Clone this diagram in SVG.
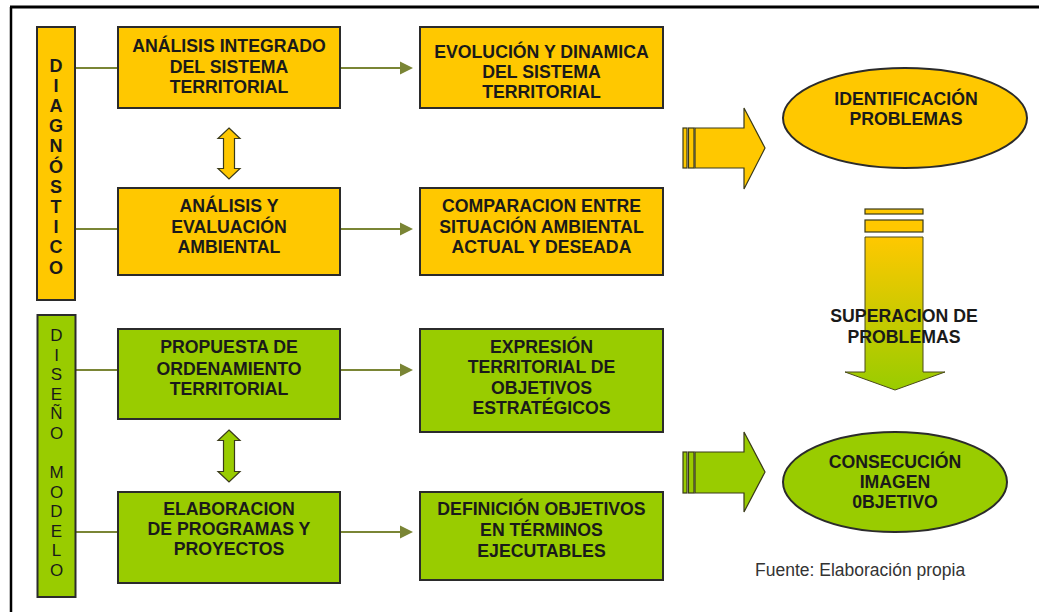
<svg xmlns="http://www.w3.org/2000/svg" width="1039" height="612" viewBox="0 0 1039 612">
<defs>
<style>
.y{fill:#FFC800;stroke:#2b2b2b;stroke-width:2}
.g{fill:#99CC00;stroke:#2b2b2b;stroke-width:2}
.t{font-family:"Liberation Sans",Arial,sans-serif;font-weight:bold;font-size:17.7px;fill:#1a1a1a;text-anchor:middle}
.v{font-family:"Liberation Sans",Arial,sans-serif;font-weight:bold;font-size:18px;fill:#1a1a1a;text-anchor:middle}
.w{font-family:"Liberation Sans",Arial,sans-serif;font-size:17px;fill:#1a1a1a;text-anchor:middle}
.c{stroke:#7A8535;stroke-width:2;fill:none}
.ah{fill:#7A8535}
.bay{fill:#FFC800;stroke:#3a3a1a;stroke-width:1.2}
.bag{fill:#99CC00;stroke:#3a3a1a;stroke-width:1.2}
</style>
<linearGradient id="vg" x1="0" y1="0" x2="0" y2="1">
<stop offset="0" stop-color="#FFC800"/>
<stop offset="1" stop-color="#99CC00"/>
</linearGradient>
</defs>
<rect width="1039" height="612" fill="#ffffff"/>
<g id="frame">
<line x1="10" y1="7" x2="1039" y2="7" stroke="#000" stroke-width="3"/>
<line x1="11" y1="7" x2="11" y2="612" stroke="#000" stroke-width="2.5"/>
</g>

<g id="connectors">
<line class="c" x1="76" y1="68" x2="118" y2="68"/>
<line class="c" x1="340" y1="68" x2="402" y2="68"/>
<polygon class="ah" points="400,61.5 413,68 400,74.5"/>
<line class="c" x1="76" y1="229" x2="118" y2="229"/>
<line class="c" x1="340" y1="229" x2="402" y2="229"/>
<polygon class="ah" points="400,222.5 413,229 400,235.5"/>
<line class="c" x1="76" y1="370" x2="118" y2="370"/>
<line class="c" x1="340" y1="370" x2="402" y2="370"/>
<polygon class="ah" points="400,363.5 413,370 400,376.5"/>
<line class="c" x1="76" y1="532" x2="118" y2="532"/>
<line class="c" x1="340" y1="532" x2="402" y2="532"/>
<polygon class="ah" points="400,525.5 413,532 400,538.5"/>
<polygon class="bay" points="229,128 240,138.5 234.5,138.5 234.5,168.5 240,168.5 229,179 218,168.5 223.5,168.5 223.5,138.5 218,138.5"/>
<polygon class="bag" points="229,430 240,440.5 234.5,440.5 234.5,471.5 240,471.5 229,482 218,471.5 223.5,471.5 223.5,440.5 218,440.5"/>
<g id="arrow-identificacion">
<rect class="bay" x="683" y="128" width="4" height="40"/>
<rect class="bay" x="688.5" y="128" width="5.5" height="40"/>
<polygon class="bay" points="695,128 744,128 744,108 765,148 744,189 744,168 695,168"/>
</g>
<g id="arrow-consecucion">
<rect class="bag" x="683" y="452" width="4" height="41"/>
<rect class="bag" x="688.5" y="452" width="5.5" height="41"/>
<polygon class="bag" points="695,452 744,452 744,432 765,472 744,512 744,493 695,493"/>
</g>
<g id="arrow-superacion">
<rect class="bay" x="865" y="209" width="58" height="5"/>
<rect class="bay" x="865" y="220" width="58" height="12"/>
<polygon points="865,237 923,237 923,372 945,372 895,390 845,372 865,372" fill="url(#vg)" stroke="#4a4a1a" stroke-width="1"/>
</g>
</g>

<g id="bar-diagnostico">
<rect class="y" x="37" y="27" width="38" height="273"/>
<text class="v" x="56" y="71.5">D</text>
<text class="v" x="56" y="91.7">I</text>
<text class="v" x="56" y="111.9">A</text>
<text class="v" x="56" y="132.1">G</text>
<text class="v" x="56" y="152.3">N</text>
<text class="v" x="56" y="172.5">Ó</text>
<text class="v" x="56" y="192.7">S</text>
<text class="v" x="56" y="212.9">T</text>
<text class="v" x="56" y="233.1">I</text>
<text class="v" x="56" y="253.3">C</text>
<text class="v" x="56" y="273.5">O</text>
</g>

<g id="bar-diseno">
<rect class="g" x="37.5" y="315" width="38" height="282"/>
<text class="w" x="56.5" y="341">D</text>
<text class="w" x="56.5" y="360.5">I</text>
<text class="w" x="56.5" y="380">S</text>
<text class="w" x="56.5" y="399.5">E</text>
<text class="w" x="56.5" y="419">Ñ</text>
<text class="w" x="56.5" y="438.5">O</text>
<text class="w" x="56.5" y="478">M</text>
<text class="w" x="56.5" y="497.5">O</text>
<text class="w" x="56.5" y="517">D</text>
<text class="w" x="56.5" y="536.5">E</text>
<text class="w" x="56.5" y="556">L</text>
<text class="w" x="56.5" y="576">O</text>
</g>

<g id="n-analisis-integrado">
<rect class="y" x="118" y="27" width="222" height="81"/>
<text class="t" x="229" y="52">ANÁLISIS INTEGRADO</text>
<text class="t" x="229" y="72.5">DEL SISTEMA</text>
<text class="t" x="229" y="93">TERRITORIAL</text>
</g>
<g id="n-analisis-evaluacion">
<rect class="y" x="118" y="188" width="222" height="87"/>
<text class="t" x="229" y="212">ANÁLISIS Y</text>
<text class="t" x="229" y="233">EVALUACIÓN</text>
<text class="t" x="229" y="253">AMBIENTAL</text>
</g>
<g id="n-evolucion">
<rect class="y" x="420" y="27" width="243" height="81"/>
<text class="t" x="541.5" y="58">EVOLUCIÓN Y DINAMICA</text>
<text class="t" x="541.5" y="78">DEL SISTEMA</text>
<text class="t" x="541.5" y="98">TERRITORIAL</text>
</g>
<g id="n-comparacion">
<rect class="y" x="420" y="188" width="243" height="87"/>
<text class="t" x="541.5" y="212">COMPARACION ENTRE</text>
<text class="t" x="541.5" y="233">SITUACIÓN AMBIENTAL</text>
<text class="t" x="541.5" y="253">ACTUAL Y DESEADA</text>
</g>
<g id="n-propuesta">
<rect class="g" x="118" y="329" width="222" height="90"/>
<text class="t" x="229" y="353">PROPUESTA DE</text>
<text class="t" x="229" y="375">ORDENAMIENTO</text>
<text class="t" x="229" y="395">TERRITORIAL</text>
</g>
<g id="n-elaboracion">
<rect class="g" x="118" y="492" width="222" height="91"/>
<text class="t" x="229" y="515">ELABORACION</text>
<text class="t" x="229" y="535">DE PROGRAMAS Y</text>
<text class="t" x="229" y="555">PROYECTOS</text>
</g>
<g id="n-expresion">
<rect class="g" x="420" y="329" width="243" height="103"/>
<text class="t" x="541.5" y="353">EXPRESIÓN</text>
<text class="t" x="541.5" y="373">TERRITORIAL DE</text>
<text class="t" x="541.5" y="394">OBJETIVOS</text>
<text class="t" x="541.5" y="414">ESTRATÉGICOS</text>
</g>
<g id="n-definicion">
<rect class="g" x="420" y="492" width="243" height="88"/>
<text class="t" x="541.5" y="515">DEFINICIÓN OBJETIVOS</text>
<text class="t" x="541.5" y="536">EN TÉRMINOS</text>
<text class="t" x="541.5" y="557">EJECUTABLES</text>
</g>
<g id="n-identificacion">
<ellipse class="y" cx="905" cy="118" rx="122" ry="50"/>
<text class="t" x="906" y="105">IDENTIFICACIÓN</text>
<text class="t" x="906" y="125">PROBLEMAS</text>
</g>
<g id="n-consecucion">
<ellipse class="g" cx="895" cy="482" rx="112" ry="50"/>
<text class="t" x="895" y="468">CONSECUCIÓN</text>
<text class="t" x="895" y="488">IMAGEN</text>
<text class="t" x="895" y="508">0BJETIVO</text>
</g>
<g id="label-superacion">
<text class="t" x="904" y="322">SUPERACION DE</text>
<text class="t" x="904" y="343">PROBLEMAS</text>
</g>
<text x="755" y="576" font-family="'Liberation Sans',Arial,sans-serif" font-size="17.5" fill="#333">Fuente:  Elaboración propia</text>
</svg>
